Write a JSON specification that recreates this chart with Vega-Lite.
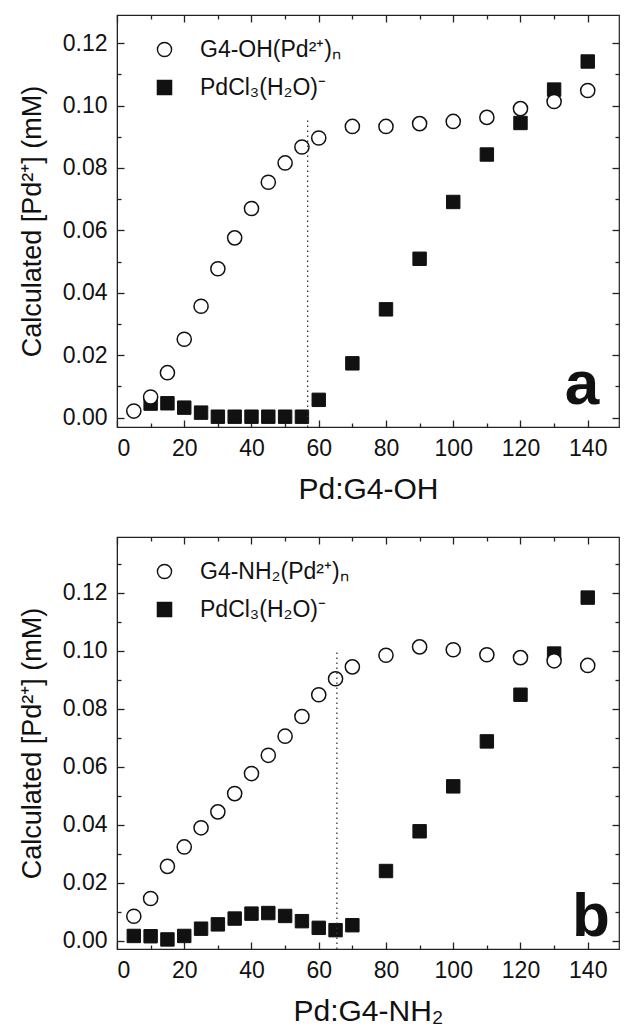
{
  "$schema": "https://vega.github.io/schema/vega-lite/v6.json",
  "padding": {"left": 17, "top": 13, "right": 2, "bottom": 2},
  "background": "white",
  "spacing": 30,
  "config": {
    "font": "Liberation Sans",
    "view": {"stroke": "#222", "strokeWidth": 1.2},
    "axis": {
      "grid": false,
      "domainColor": "#222",
      "tickColor": "#222",
      "tickWidth": 1.3,
      "labelColor": "#111",
      "titleColor": "#111",
      "labelFont": "Liberation Sans",
      "titleFont": "Liberation Sans",
      "titleFontWeight": "normal",
      "labelFontSize": 23,
      "titleFontSize": 30
    },
    "legend": {
      "labelFont": "Liberation Sans",
      "orient": "none",
      "legendX": 36,
      "legendY": 23,
      "labelFontSize": 23,
      "labelColor": "#111",
      "symbolSize": 200,
      "symbolStrokeWidth": 1.4,
      "labelOffset": 24,
      "rowPadding": 14,
      "padding": 0
    }
  },
  "datasets": {
    "a_sq": [
      {"x": 10, "y": 0.0045, "s": "PdCl₃(H₂O)⁻"},
      {"x": 15, "y": 0.0046, "s": "PdCl₃(H₂O)⁻"},
      {"x": 20, "y": 0.0032, "s": "PdCl₃(H₂O)⁻"},
      {"x": 25, "y": 0.0016, "s": "PdCl₃(H₂O)⁻"},
      {"x": 30, "y": 0.0003, "s": "PdCl₃(H₂O)⁻"},
      {"x": 35, "y": 0.0003, "s": "PdCl₃(H₂O)⁻"},
      {"x": 40, "y": 0.0003, "s": "PdCl₃(H₂O)⁻"},
      {"x": 45, "y": 0.0003, "s": "PdCl₃(H₂O)⁻"},
      {"x": 50, "y": 0.0003, "s": "PdCl₃(H₂O)⁻"},
      {"x": 55, "y": 0.0003, "s": "PdCl₃(H₂O)⁻"},
      {"x": 60, "y": 0.0057, "s": "PdCl₃(H₂O)⁻"},
      {"x": 70, "y": 0.0174, "s": "PdCl₃(H₂O)⁻"},
      {"x": 80, "y": 0.0347, "s": "PdCl₃(H₂O)⁻"},
      {"x": 90, "y": 0.0509, "s": "PdCl₃(H₂O)⁻"},
      {"x": 100, "y": 0.0691, "s": "PdCl₃(H₂O)⁻"},
      {"x": 110, "y": 0.0843, "s": "PdCl₃(H₂O)⁻"},
      {"x": 120, "y": 0.0944, "s": "PdCl₃(H₂O)⁻"},
      {"x": 130, "y": 0.1051, "s": "PdCl₃(H₂O)⁻"},
      {"x": 140, "y": 0.1141, "s": "PdCl₃(H₂O)⁻"}
    ],
    "a_ci": [
      {"x": 5, "y": 0.0021, "s": "G4-OH(Pd²⁺)ₙ"},
      {"x": 10, "y": 0.0066, "s": "G4-OH(Pd²⁺)ₙ"},
      {"x": 15, "y": 0.0144, "s": "G4-OH(Pd²⁺)ₙ"},
      {"x": 20, "y": 0.0251, "s": "G4-OH(Pd²⁺)ₙ"},
      {"x": 25, "y": 0.0357, "s": "G4-OH(Pd²⁺)ₙ"},
      {"x": 30, "y": 0.0477, "s": "G4-OH(Pd²⁺)ₙ"},
      {"x": 35, "y": 0.0576, "s": "G4-OH(Pd²⁺)ₙ"},
      {"x": 40, "y": 0.0670, "s": "G4-OH(Pd²⁺)ₙ"},
      {"x": 45, "y": 0.0754, "s": "G4-OH(Pd²⁺)ₙ"},
      {"x": 50, "y": 0.0816, "s": "G4-OH(Pd²⁺)ₙ"},
      {"x": 55, "y": 0.0867, "s": "G4-OH(Pd²⁺)ₙ"},
      {"x": 60, "y": 0.0896, "s": "G4-OH(Pd²⁺)ₙ"},
      {"x": 70, "y": 0.0933, "s": "G4-OH(Pd²⁺)ₙ"},
      {"x": 80, "y": 0.0933, "s": "G4-OH(Pd²⁺)ₙ"},
      {"x": 90, "y": 0.0942, "s": "G4-OH(Pd²⁺)ₙ"},
      {"x": 100, "y": 0.0949, "s": "G4-OH(Pd²⁺)ₙ"},
      {"x": 110, "y": 0.0962, "s": "G4-OH(Pd²⁺)ₙ"},
      {"x": 120, "y": 0.0990, "s": "G4-OH(Pd²⁺)ₙ"},
      {"x": 130, "y": 0.1013, "s": "G4-OH(Pd²⁺)ₙ"},
      {"x": 140, "y": 0.1048, "s": "G4-OH(Pd²⁺)ₙ"}
    ],
    "b_sq": [
      {"x": 5, "y": 0.0017, "s": "PdCl₃(H₂O)⁻"},
      {"x": 10, "y": 0.0016, "s": "PdCl₃(H₂O)⁻"},
      {"x": 15, "y": 0.0005, "s": "PdCl₃(H₂O)⁻"},
      {"x": 20, "y": 0.0017, "s": "PdCl₃(H₂O)⁻"},
      {"x": 25, "y": 0.0042, "s": "PdCl₃(H₂O)⁻"},
      {"x": 30, "y": 0.0057, "s": "PdCl₃(H₂O)⁻"},
      {"x": 35, "y": 0.0077, "s": "PdCl₃(H₂O)⁻"},
      {"x": 40, "y": 0.0094, "s": "PdCl₃(H₂O)⁻"},
      {"x": 45, "y": 0.0096, "s": "PdCl₃(H₂O)⁻"},
      {"x": 50, "y": 0.0086, "s": "PdCl₃(H₂O)⁻"},
      {"x": 55, "y": 0.0068, "s": "PdCl₃(H₂O)⁻"},
      {"x": 60, "y": 0.0045, "s": "PdCl₃(H₂O)⁻"},
      {"x": 65, "y": 0.0037, "s": "PdCl₃(H₂O)⁻"},
      {"x": 70, "y": 0.0054, "s": "PdCl₃(H₂O)⁻"},
      {"x": 80, "y": 0.0241, "s": "PdCl₃(H₂O)⁻"},
      {"x": 90, "y": 0.0378, "s": "PdCl₃(H₂O)⁻"},
      {"x": 100, "y": 0.0533, "s": "PdCl₃(H₂O)⁻"},
      {"x": 110, "y": 0.0688, "s": "PdCl₃(H₂O)⁻"},
      {"x": 120, "y": 0.0849, "s": "PdCl₃(H₂O)⁻"},
      {"x": 130, "y": 0.0991, "s": "PdCl₃(H₂O)⁻"},
      {"x": 140, "y": 0.1184, "s": "PdCl₃(H₂O)⁻"}
    ],
    "b_ci": [
      {"x": 5, "y": 0.0085, "s": "G4-NH₂(Pd²⁺)ₙ"},
      {"x": 10, "y": 0.0146, "s": "G4-NH₂(Pd²⁺)ₙ"},
      {"x": 15, "y": 0.0257, "s": "G4-NH₂(Pd²⁺)ₙ"},
      {"x": 20, "y": 0.0324, "s": "G4-NH₂(Pd²⁺)ₙ"},
      {"x": 25, "y": 0.0390, "s": "G4-NH₂(Pd²⁺)ₙ"},
      {"x": 30, "y": 0.0445, "s": "G4-NH₂(Pd²⁺)ₙ"},
      {"x": 35, "y": 0.0508, "s": "G4-NH₂(Pd²⁺)ₙ"},
      {"x": 40, "y": 0.0577, "s": "G4-NH₂(Pd²⁺)ₙ"},
      {"x": 45, "y": 0.0640, "s": "G4-NH₂(Pd²⁺)ₙ"},
      {"x": 50, "y": 0.0706, "s": "G4-NH₂(Pd²⁺)ₙ"},
      {"x": 55, "y": 0.0774, "s": "G4-NH₂(Pd²⁺)ₙ"},
      {"x": 60, "y": 0.0849, "s": "G4-NH₂(Pd²⁺)ₙ"},
      {"x": 65, "y": 0.0904, "s": "G4-NH₂(Pd²⁺)ₙ"},
      {"x": 70, "y": 0.0945, "s": "G4-NH₂(Pd²⁺)ₙ"},
      {"x": 80, "y": 0.0985, "s": "G4-NH₂(Pd²⁺)ₙ"},
      {"x": 90, "y": 0.1014, "s": "G4-NH₂(Pd²⁺)ₙ"},
      {"x": 100, "y": 0.1004, "s": "G4-NH₂(Pd²⁺)ₙ"},
      {"x": 110, "y": 0.0987, "s": "G4-NH₂(Pd²⁺)ₙ"},
      {"x": 120, "y": 0.0977, "s": "G4-NH₂(Pd²⁺)ₙ"},
      {"x": 130, "y": 0.0966, "s": "G4-NH₂(Pd²⁺)ₙ"},
      {"x": 140, "y": 0.0950, "s": "G4-NH₂(Pd²⁺)ₙ"}
    ],
    "a_line": [{"x": 56.7, "y": -0.003, "y2": 0.096}],
    "b_line": [{"x": 65.4, "y": -0.0028, "y2": 0.1}],
    "a_lab": [{"x": 143.4, "y": 0.0044, "label": "a"}],
    "b_lab": [{"x": 146.6, "y": 0.0018, "label": "b"}]
  },
  "resolve": {
    "scale": {"x": "independent", "y": "independent", "shape": "independent", "fill": "independent", "stroke": "independent"},
    "legend": {"shape": "independent", "fill": "independent", "stroke": "independent"}
  },
  "vconcat": [
    {
      "width": 502,
      "height": 412,
      "resolve": {"axis": {"x": "independent", "y": "independent"}},
      "layer": [
        {
          "data": {"name": "a_sq"},
          "mark": {"type": "point", "filled": true, "strokeWidth": 1, "size": 180, "opacity": 1},
          "encoding": {
            "x": {"field": "x", "type": "quantitative", "scale": {"domain": [0, 149.3], "nice": false, "zero": false},
              "axis": {"orient": "bottom", "values": [0, 20, 40, 60, 80, 100, 120, 140], "tickSize": -7, "labelPadding": 17, "title": "Pd:G4-OH", "titlePadding": 14}},
            "y": {"field": "y", "type": "quantitative", "scale": {"domain": [-0.003, 0.129], "nice": false, "zero": false},
              "axis": {"orient": "left", "values": [0, 0.02, 0.04, 0.06, 0.08, 0.1, 0.12], "format": ".2f", "tickSize": -7, "labelPadding": 17, "title": "Calculated [Pd²⁺] (mM)", "titleFontSize": 27, "titlePadding": 16}},
            "shape": {"field": "s", "type": "nominal", "scale": {"domain": ["G4-OH(Pd²⁺)ₙ", "PdCl₃(H₂O)⁻"], "range": ["circle", "square"]}, "legend": {"title": null}},
            "fill": {"field": "s", "type": "nominal", "scale": {"domain": ["G4-OH(Pd²⁺)ₙ", "PdCl₃(H₂O)⁻"], "range": ["white", "#111"]}, "legend": {"title": null}},
            "stroke": {"field": "s", "type": "nominal", "scale": {"domain": ["G4-OH(Pd²⁺)ₙ", "PdCl₃(H₂O)⁻"], "range": ["#111", "#111"]}, "legend": {"title": null}}
          }
        },
        {
          "data": {"name": "a_ci"},
          "mark": {"type": "point", "filled": true, "strokeWidth": 1.5, "size": 200, "opacity": 1},
          "encoding": {
            "x": {"field": "x", "type": "quantitative", "scale": {"domain": [0, 149.3], "nice": false, "zero": false},
              "axis": {"orient": "top", "values": [0, 20, 40, 60, 80, 100, 120, 140], "tickSize": -7, "labels": false, "domain": false, "title": null}},
            "y": {"field": "y", "type": "quantitative", "scale": {"domain": [-0.003, 0.129], "nice": false, "zero": false},
              "axis": {"orient": "right", "values": [0, 0.02, 0.04, 0.06, 0.08, 0.1, 0.12], "tickSize": -7, "labels": false, "domain": false, "title": null}},
            "shape": {"field": "s", "type": "nominal", "scale": {"domain": ["G4-OH(Pd²⁺)ₙ", "PdCl₃(H₂O)⁻"], "range": ["circle", "square"]}, "legend": {"title": null}},
            "fill": {"field": "s", "type": "nominal", "scale": {"domain": ["G4-OH(Pd²⁺)ₙ", "PdCl₃(H₂O)⁻"], "range": ["white", "#111"]}, "legend": {"title": null}},
            "stroke": {"field": "s", "type": "nominal", "scale": {"domain": ["G4-OH(Pd²⁺)ₙ", "PdCl₃(H₂O)⁻"], "range": ["#111", "#111"]}, "legend": {"title": null}}
          }
        },
        {
          "data": {"name": "a_line"},
          "mark": {"type": "rule", "color": "#333", "strokeWidth": 1.3, "strokeDash": [1.5, 3.5]},
          "encoding": {
            "x": {"field": "x", "type": "quantitative", "scale": {"domain": [0, 149.3], "nice": false, "zero": false},
              "axis": {"orient": "bottom", "values": [10, 30, 50, 70, 90, 110, 130], "tickSize": -4, "labels": false, "domain": false, "title": null}},
            "y": {"field": "y", "type": "quantitative", "scale": {"domain": [-0.003, 0.129], "nice": false, "zero": false},
              "axis": {"orient": "left", "values": [0.01, 0.03, 0.05, 0.07, 0.09, 0.11], "tickSize": -4, "labels": false, "domain": false, "title": null}},
            "y2": {"field": "y2"}
          }
        },
        {
          "data": {"name": "a_lab"},
          "mark": {"type": "text", "font": "Liberation Sans", "fontWeight": "bold", "fontSize": 62, "align": "right", "baseline": "alphabetic", "color": "#111"},
          "encoding": {
            "x": {"field": "x", "type": "quantitative", "scale": {"domain": [0, 149.3], "nice": false, "zero": false},
              "axis": {"orient": "top", "values": [10, 30, 50, 70, 90, 110, 130], "tickSize": -4, "labels": false, "domain": false, "title": null}},
            "y": {"field": "y", "type": "quantitative", "scale": {"domain": [-0.003, 0.129], "nice": false, "zero": false},
              "axis": {"orient": "right", "values": [0.01, 0.03, 0.05, 0.07, 0.09, 0.11], "tickSize": -4, "labels": false, "domain": false, "title": null}},
            "text": {"field": "label", "type": "nominal"}
          }
        }
      ]
    },
    {
      "width": 502,
      "height": 412,
      "resolve": {"axis": {"x": "independent", "y": "independent"}},
      "layer": [
        {
          "data": {"name": "b_sq"},
          "mark": {"type": "point", "filled": true, "strokeWidth": 1, "size": 180, "opacity": 1},
          "encoding": {
            "x": {"field": "x", "type": "quantitative", "scale": {"domain": [0, 149.3], "nice": false, "zero": false},
              "axis": {"orient": "bottom", "values": [0, 20, 40, 60, 80, 100, 120, 140], "tickSize": -7, "labelPadding": 17, "title": "Pd:G4-NH₂", "titlePadding": 14}},
            "y": {"field": "y", "type": "quantitative", "scale": {"domain": [-0.0028, 0.1393], "nice": false, "zero": false},
              "axis": {"orient": "left", "values": [0, 0.02, 0.04, 0.06, 0.08, 0.1, 0.12], "format": ".2f", "tickSize": -7, "labelPadding": 17, "title": "Calculated [Pd²⁺] (mM)", "titleFontSize": 27, "titlePadding": 16}},
            "shape": {"field": "s", "type": "nominal", "scale": {"domain": ["G4-NH₂(Pd²⁺)ₙ", "PdCl₃(H₂O)⁻"], "range": ["circle", "square"]}, "legend": {"title": null}},
            "fill": {"field": "s", "type": "nominal", "scale": {"domain": ["G4-NH₂(Pd²⁺)ₙ", "PdCl₃(H₂O)⁻"], "range": ["white", "#111"]}, "legend": {"title": null}},
            "stroke": {"field": "s", "type": "nominal", "scale": {"domain": ["G4-NH₂(Pd²⁺)ₙ", "PdCl₃(H₂O)⁻"], "range": ["#111", "#111"]}, "legend": {"title": null}}
          }
        },
        {
          "data": {"name": "b_ci"},
          "mark": {"type": "point", "filled": true, "strokeWidth": 1.5, "size": 200, "opacity": 1},
          "encoding": {
            "x": {"field": "x", "type": "quantitative", "scale": {"domain": [0, 149.3], "nice": false, "zero": false},
              "axis": {"orient": "top", "values": [0, 20, 40, 60, 80, 100, 120, 140], "tickSize": -7, "labels": false, "domain": false, "title": null}},
            "y": {"field": "y", "type": "quantitative", "scale": {"domain": [-0.0028, 0.1393], "nice": false, "zero": false},
              "axis": {"orient": "right", "values": [0, 0.02, 0.04, 0.06, 0.08, 0.1, 0.12], "tickSize": -7, "labels": false, "domain": false, "title": null}},
            "shape": {"field": "s", "type": "nominal", "scale": {"domain": ["G4-NH₂(Pd²⁺)ₙ", "PdCl₃(H₂O)⁻"], "range": ["circle", "square"]}, "legend": {"title": null}},
            "fill": {"field": "s", "type": "nominal", "scale": {"domain": ["G4-NH₂(Pd²⁺)ₙ", "PdCl₃(H₂O)⁻"], "range": ["white", "#111"]}, "legend": {"title": null}},
            "stroke": {"field": "s", "type": "nominal", "scale": {"domain": ["G4-NH₂(Pd²⁺)ₙ", "PdCl₃(H₂O)⁻"], "range": ["#111", "#111"]}, "legend": {"title": null}}
          }
        },
        {
          "data": {"name": "b_line"},
          "mark": {"type": "rule", "color": "#333", "strokeWidth": 1.3, "strokeDash": [1.5, 3.5]},
          "encoding": {
            "x": {"field": "x", "type": "quantitative", "scale": {"domain": [0, 149.3], "nice": false, "zero": false},
              "axis": {"orient": "bottom", "values": [10, 30, 50, 70, 90, 110, 130], "tickSize": -4, "labels": false, "domain": false, "title": null}},
            "y": {"field": "y", "type": "quantitative", "scale": {"domain": [-0.0028, 0.1393], "nice": false, "zero": false},
              "axis": {"orient": "left", "values": [0.01, 0.03, 0.05, 0.07, 0.09, 0.11, 0.13], "tickSize": -4, "labels": false, "domain": false, "title": null}},
            "y2": {"field": "y2"}
          }
        },
        {
          "data": {"name": "b_lab"},
          "mark": {"type": "text", "font": "Liberation Sans", "fontWeight": "bold", "fontSize": 62, "align": "right", "baseline": "alphabetic", "color": "#111"},
          "encoding": {
            "x": {"field": "x", "type": "quantitative", "scale": {"domain": [0, 149.3], "nice": false, "zero": false},
              "axis": {"orient": "top", "values": [10, 30, 50, 70, 90, 110, 130], "tickSize": -4, "labels": false, "domain": false, "title": null}},
            "y": {"field": "y", "type": "quantitative", "scale": {"domain": [-0.0028, 0.1393], "nice": false, "zero": false},
              "axis": {"orient": "right", "values": [0.01, 0.03, 0.05, 0.07, 0.09, 0.11, 0.13], "tickSize": -4, "labels": false, "domain": false, "title": null}},
            "text": {"field": "label", "type": "nominal"}
          }
        }
      ]
    }
  ]
}
